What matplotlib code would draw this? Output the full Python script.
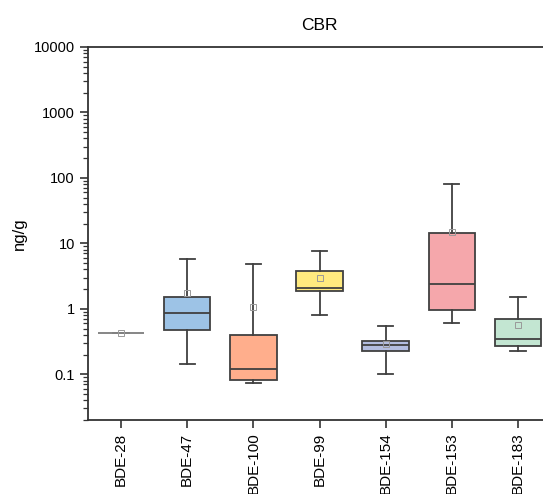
import matplotlib
matplotlib.use("Agg")
import matplotlib.pyplot as plt
import numpy as np

plt.rcParams['font.family'] = ['Liberation Sans', 'DejaVu Sans']

# compuestos y estadisticos (ng/g)
compuestos = ['BDE-28', 'BDE-47', 'BDE-100', 'BDE-99', 'BDE-154', 'BDE-153', 'BDE-183']
bigote_min = [0.42, 0.145, 0.074, 0.81, 0.102, 0.60, 0.226]
q1 = [0.42, 0.48, 0.081, 1.84, 0.23, 0.97, 0.266]
mediana = [0.42, 0.85, 0.12, 2.11, 0.28, 2.38, 0.349]
q3 = [0.42, 1.51, 0.40, 3.84, 0.325, 14.3, 0.687]
bigote_max = [0.42, 5.8, 4.85, 7.74, 0.545, 79.6, 1.49]
media = [0.42, 1.75, 1.08, 2.94, 0.285, 15.0, 0.557]

colores = ['#ffffff', '#9dc3e6', '#ffae8c', '#ffea7f', '#b3bde0', '#f5a7ab', '#c3e6d2']

stats = []
for i in range(len(compuestos)):
    stats.append({'label': compuestos[i], 'whislo': bigote_min[i], 'q1': q1[i],
                  'med': mediana[i], 'q3': q3[i], 'whishi': bigote_max[i],
                  'mean': media[i], 'fliers': []})

fig = plt.figure(figsize=(5.43, 4.94), dpi=100)
ax = fig.add_axes([88/543, 1-420/494, 463/543, 373/494])

borde = '#404040'
bp = ax.bxp(stats, positions=np.arange(1, 8), widths=0.7, patch_artist=True,
            showmeans=True, meanline=False,
            boxprops=dict(edgecolor=borde, linewidth=1.3),
            medianprops=dict(color=borde, linewidth=1.3),
            whiskerprops=dict(color=borde, linewidth=1.3),
            capprops=dict(color=borde, linewidth=1.3),
            meanprops=dict(marker='s', markersize=4, markerfacecolor='none',
                           markeredgecolor='#999999', markeredgewidth=0.7))
for caja, c in zip(bp['boxes'], colores):
    caja.set_facecolor(c)
for cap in bp['caps']:
    x = cap.get_xdata()
    m = x.mean()
    cap.set_xdata([m - 0.115, m + 0.115])
# BDE-28 solo es una linea gris
bp['boxes'][0].set_edgecolor('#888888')
bp['medians'][0].set_color('#888888')

ax.set_yscale('log')
ax.set_ylim(0.02, 10000)
ax.set_xlim(0.5, 7.5)
ax.set_yticks([0.1, 1, 10, 100, 1000, 10000])
ax.set_yticklabels(['0.1', '1', '10', '100', '1000', '10000'])
ax.set_xticks(np.arange(1, 8))
ax.set_xticklabels(compuestos, rotation=90, va='top')

ax.tick_params(axis='both', which='major', direction='out', length=6, width=1.2,
               labelsize=10.5, color='#333333')
ax.tick_params(axis='y', which='minor', direction='out', length=3.5, width=0.9, color='#333333')
ax.tick_params(axis='x', which='major', pad=3, labelsize=11)
for s in ax.spines.values():
    s.set_linewidth(1.3)
    s.set_color('#333333')

ax.set_ylabel('ng/g', fontsize=12, labelpad=5)
ax.set_title('CBR', fontsize=12.5, pad=12)

fig.savefig('out.png', dpi=100)
